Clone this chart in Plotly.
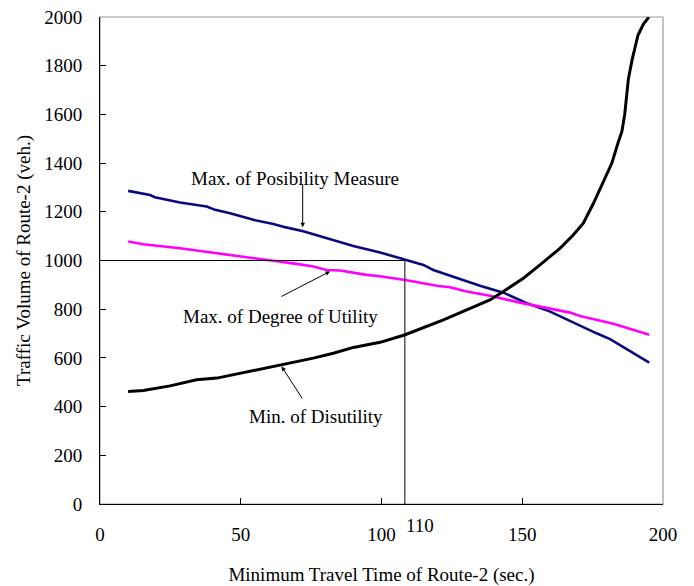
import plotly.graph_objects as go

# Max. of Posibility Measure (blue)
pos_x = [10, 17.8, 19.5, 28.4, 37.9, 40.9, 46.2, 54.5, 61.6, 65.7, 72.2, 82.9, 90, 99.5, 108.4, 114.9, 118.4, 126.7, 135, 143.3, 151.6, 159.9, 168.1, 176.4, 181.2, 195.1]
pos_y = [1286, 1269, 1260, 1238, 1222, 1208, 1194, 1167, 1150, 1137, 1120, 1085, 1060, 1033, 1002, 982, 961, 927, 896, 868, 825, 790, 745, 701, 677, 581]

# Max. of Degree of Utility (magenta)
utl_x = [10, 15.4, 28.4, 35.5, 40.3, 46.2, 53.3, 60.4, 69.9, 75.8, 80.5, 85.3, 94.7, 99.5, 108.4, 119.6, 124.3, 130.3, 138.5, 149.2, 157.5, 167, 170.5, 182.4, 195.1]
utl_y = [1078, 1067, 1050, 1039, 1033, 1022, 1013, 1001, 986, 975, 961, 959, 941, 935, 920, 896, 890, 873, 855, 827, 808, 786, 772, 740, 695]

# Min. of Disutility (black)
dis_x = [10, 15.4, 24.9, 34.3, 41.5, 49.7, 56.8, 64.5, 68.1, 75.8, 82.9, 90, 99.5, 108.4, 122, 130.3, 138.5, 143.3, 150.4, 156.3, 163.4, 168.1, 171.7, 175.3, 178.8, 181.8, 184, 185.4, 186.4, 187.1, 187.7, 189, 191.1, 193, 195]
dis_y = [462, 466, 485, 510, 517, 537, 553, 571, 581, 599, 619, 643, 664, 695, 756, 797, 838, 873, 927, 982, 1050, 1105, 1153, 1235, 1324, 1399, 1482, 1530, 1600, 1670, 1745, 1823, 1925, 1970, 2000]

x_ticks = [0, 50, 100, 150, 200]
y_ticks = [0, 200, 400, 600, 800, 1000, 1200, 1400, 1600, 1800, 2000]

ref_x = 108.3
ref_y = 1000

FONT = "Liberation Serif, Times New Roman, serif"
FS = 19

fig = go.Figure()
fig.add_trace(go.Scatter(x=pos_x, y=pos_y, mode="lines", line=dict(color="#0a0a80", width=2.6), showlegend=False))
fig.add_trace(go.Scatter(x=utl_x, y=utl_y, mode="lines", line=dict(color="#ff00ff", width=2.6), showlegend=False))
fig.add_trace(go.Scatter(x=dis_x, y=dis_y, mode="lines", line=dict(color="#000000", width=3), showlegend=False))
fig.add_trace(go.Scatter(x=[0, ref_x, ref_x], y=[ref_y, ref_y, 0], mode="lines", line=dict(color="#000000", width=1), showlegend=False))

fig.add_shape(type="rect", xref="paper", yref="paper", x0=0, y0=0, x1=1, y1=1,
              line=dict(color="#999999", width=1.2), layer="below")

ann_font = dict(family=FONT, size=FS, color="black")
fig.add_annotation(x=69.3, y=1338, text="Max. of Posibility Measure", showarrow=False, font=ann_font)
fig.add_annotation(x=72, y=1137, ax=72, ay=1318, axref="x", ayref="y", text="", showarrow=True,
                   arrowhead=2, arrowsize=0.9, arrowwidth=1, arrowcolor="black")
fig.add_annotation(x=64.2, y=772, text="Max. of Degree of Utility", showarrow=False, font=ann_font)
fig.add_annotation(x=81.7, y=955, ax=63.9, ay=849, axref="x", ayref="y", text="", showarrow=True,
                   arrowhead=2, arrowsize=0.9, arrowwidth=1, arrowcolor="black")
fig.add_annotation(x=76.7, y=359, text="Min. of Disutility", showarrow=False, font=ann_font)
fig.add_annotation(x=64.5, y=565, ax=72.2, ay=427, axref="x", ayref="y", text="", showarrow=True,
                   arrowhead=2, arrowsize=0.9, arrowwidth=1, arrowcolor="black")
fig.add_annotation(x=113.7, y=0, yref="y", yshift=-21, text="110", showarrow=False,
                   font=dict(family=FONT, size=FS, color="black"))

fig.update_layout(
    width=686, height=578,
    margin=dict(l=92, r=31, t=9, b=82),
    paper_bgcolor="white", plot_bgcolor="white",
    font=dict(family=FONT, size=FS, color="black"),
    xaxis=dict(range=[0, 200], tickvals=x_ticks, ticks="inside", ticklen=6, tickcolor="black",
               showline=True, linecolor="black", linewidth=1, showgrid=False, zeroline=False,
               automargin=False, ticklabelstandoff=13, ticklabeloverflow="allow",
               title=dict(text="Minimum Travel Time of Route-2 (sec.)", standoff=27, font=dict(size=FS))),
    yaxis=dict(range=[0, 2000], tickvals=y_ticks, ticks="inside", ticklen=6, tickcolor="black",
               showline=True, linecolor="black", linewidth=1, showgrid=False, zeroline=False,
               automargin=False, ticklabelstandoff=13, ticklabeloverflow="allow",
               title=dict(text="Traffic Volume of Route-2 (veh.)", standoff=8, font=dict(size=FS))),
)

fig.write_html("out.html")
